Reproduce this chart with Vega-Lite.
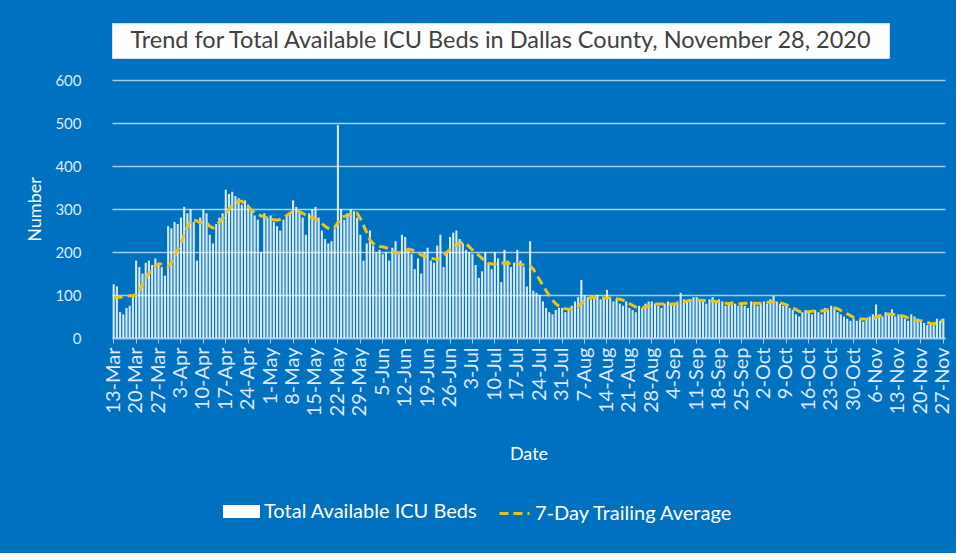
{
"$schema": "https://vega.github.io/schema/vega-lite/v6.json",
"background": "#0070C0",
"padding": {"left": 26, "top": 22, "right": 8, "bottom": 29},
"bounds": "flush",
"spacing": 22,
"datasets": {"icu": [
{"d":"13-Mar","beds":125,"avg":95},{"d":"14-Mar","beds":120,"avg":95},{"d":"15-Mar","beds":60,"avg":95},{"d":"16-Mar","beds":55,"avg":96},{"d":"17-Mar","beds":70,"avg":97},{"d":"18-Mar","beds":75,"avg":98},{"d":"19-Mar","beds":95,"avg":99},{"d":"20-Mar","beds":180,"avg":100},{"d":"21-Mar","beds":165,"avg":110},{"d":"22-Mar","beds":150,"avg":125},{"d":"23-Mar","beds":175,"avg":140},{"d":"24-Mar","beds":180,"avg":150},{"d":"25-Mar","beds":170,"avg":160},{"d":"26-Mar","beds":185,"avg":168},{"d":"27-Mar","beds":175,"avg":172},{"d":"28-Mar","beds":165,"avg":172},{"d":"29-Mar","beds":145,"avg":170},{"d":"30-Mar","beds":260,"avg":167},{"d":"31-Mar","beds":255,"avg":175},
{"d":"1-Apr","beds":270,"avg":190},{"d":"2-Apr","beds":265,"avg":205},{"d":"3-Apr","beds":280,"avg":220},{"d":"4-Apr","beds":305,"avg":240},{"d":"5-Apr","beds":290,"avg":258},{"d":"6-Apr","beds":300,"avg":272},{"d":"7-Apr","beds":270,"avg":275},{"d":"8-Apr","beds":180,"avg":272},{"d":"9-Apr","beds":280,"avg":268},{"d":"10-Apr","beds":300,"avg":270},{"d":"11-Apr","beds":290,"avg":268},{"d":"12-Apr","beds":240,"avg":260},{"d":"13-Apr","beds":220,"avg":256},{"d":"14-Apr","beds":265,"avg":262},{"d":"15-Apr","beds":280,"avg":270},{"d":"16-Apr","beds":290,"avg":278},{"d":"17-Apr","beds":345,"avg":290},{"d":"18-Apr","beds":335,"avg":300},{"d":"19-Apr","beds":340,"avg":308},{"d":"20-Apr","beds":330,"avg":314},{"d":"21-Apr","beds":325,"avg":318},{"d":"22-Apr","beds":310,"avg":318},{"d":"23-Apr","beds":320,"avg":312},{"d":"24-Apr","beds":310,"avg":305},{"d":"25-Apr","beds":300,"avg":298},{"d":"26-Apr","beds":285,"avg":292},{"d":"27-Apr","beds":275,"avg":288},{"d":"28-Apr","beds":200,"avg":284},{"d":"29-Apr","beds":290,"avg":282},{"d":"30-Apr","beds":280,"avg":280},
{"d":"1-May","beds":285,"avg":276},{"d":"2-May","beds":270,"avg":275},{"d":"3-May","beds":260,"avg":274},{"d":"4-May","beds":250,"avg":276},{"d":"5-May","beds":275,"avg":280},{"d":"6-May","beds":285,"avg":285},{"d":"7-May","beds":290,"avg":290},{"d":"8-May","beds":320,"avg":294},{"d":"9-May","beds":305,"avg":296},{"d":"10-May","beds":295,"avg":294},{"d":"11-May","beds":280,"avg":290},{"d":"12-May","beds":240,"avg":286},{"d":"13-May","beds":290,"avg":282},{"d":"14-May","beds":300,"avg":280},{"d":"15-May","beds":305,"avg":278},{"d":"16-May","beds":280,"avg":272},{"d":"17-May","beds":250,"avg":266},{"d":"18-May","beds":230,"avg":260},{"d":"19-May","beds":220,"avg":255},{"d":"20-May","beds":225,"avg":253},{"d":"21-May","beds":255,"avg":258},{"d":"22-May","beds":495,"avg":268},{"d":"23-May","beds":300,"avg":278},{"d":"24-May","beds":275,"avg":283},{"d":"25-May","beds":290,"avg":285},{"d":"26-May","beds":300,"avg":288},{"d":"27-May","beds":295,"avg":290},{"d":"28-May","beds":280,"avg":290},{"d":"29-May","beds":240,"avg":278},{"d":"30-May","beds":180,"avg":262},{"d":"31-May","beds":220,"avg":245},
{"d":"1-Jun","beds":250,"avg":228},{"d":"2-Jun","beds":215,"avg":220},{"d":"3-Jun","beds":200,"avg":215},{"d":"4-Jun","beds":205,"avg":213},{"d":"5-Jun","beds":195,"avg":212},{"d":"6-Jun","beds":200,"avg":210},{"d":"7-Jun","beds":180,"avg":206},{"d":"8-Jun","beds":210,"avg":202},{"d":"9-Jun","beds":225,"avg":199},{"d":"10-Jun","beds":195,"avg":198},{"d":"11-Jun","beds":240,"avg":200},{"d":"12-Jun","beds":235,"avg":203},{"d":"13-Jun","beds":210,"avg":205},{"d":"14-Jun","beds":195,"avg":205},{"d":"15-Jun","beds":160,"avg":203},{"d":"16-Jun","beds":185,"avg":198},{"d":"17-Jun","beds":150,"avg":193},{"d":"18-Jun","beds":200,"avg":190},{"d":"19-Jun","beds":210,"avg":188},{"d":"20-Jun","beds":180,"avg":186},{"d":"21-Jun","beds":175,"avg":184},{"d":"22-Jun","beds":215,"avg":183},{"d":"23-Jun","beds":240,"avg":185},{"d":"24-Jun","beds":165,"avg":192},{"d":"25-Jun","beds":200,"avg":200},{"d":"26-Jun","beds":235,"avg":206},{"d":"27-Jun","beds":245,"avg":212},{"d":"28-Jun","beds":250,"avg":216},{"d":"29-Jun","beds":230,"avg":220},{"d":"30-Jun","beds":220,"avg":223},
{"d":"1-Jul","beds":205,"avg":220},{"d":"2-Jul","beds":200,"avg":212},{"d":"3-Jul","beds":195,"avg":205},{"d":"4-Jul","beds":170,"avg":198},{"d":"5-Jul","beds":140,"avg":192},{"d":"6-Jul","beds":155,"avg":185},{"d":"7-Jul","beds":200,"avg":178},{"d":"8-Jul","beds":175,"avg":174},{"d":"9-Jul","beds":160,"avg":172},{"d":"10-Jul","beds":200,"avg":172},{"d":"11-Jul","beds":185,"avg":173},{"d":"12-Jul","beds":130,"avg":174},{"d":"13-Jul","beds":205,"avg":175},{"d":"14-Jul","beds":180,"avg":174},{"d":"15-Jul","beds":165,"avg":173},{"d":"16-Jul","beds":175,"avg":172},{"d":"17-Jul","beds":205,"avg":172},{"d":"18-Jul","beds":180,"avg":171},{"d":"19-Jul","beds":165,"avg":170},{"d":"20-Jul","beds":120,"avg":170},{"d":"21-Jul","beds":225,"avg":168},{"d":"22-Jul","beds":110,"avg":160},{"d":"23-Jul","beds":105,"avg":148},{"d":"24-Jul","beds":100,"avg":135},{"d":"25-Jul","beds":85,"avg":122},{"d":"26-Jul","beds":70,"avg":110},{"d":"27-Jul","beds":60,"avg":98},{"d":"28-Jul","beds":55,"avg":88},{"d":"29-Jul","beds":65,"avg":80},{"d":"30-Jul","beds":70,"avg":74},{"d":"31-Jul","beds":70,"avg":70},
{"d":"1-Aug","beds":60,"avg":68},{"d":"2-Aug","beds":65,"avg":67},{"d":"3-Aug","beds":75,"avg":67},{"d":"4-Aug","beds":85,"avg":69},{"d":"5-Aug","beds":95,"avg":74},{"d":"6-Aug","beds":135,"avg":80},{"d":"7-Aug","beds":100,"avg":87},{"d":"8-Aug","beds":95,"avg":92},{"d":"9-Aug","beds":90,"avg":94},{"d":"10-Aug","beds":95,"avg":94},{"d":"11-Aug","beds":100,"avg":93},{"d":"12-Aug","beds":90,"avg":93},{"d":"13-Aug","beds":95,"avg":93},{"d":"14-Aug","beds":112,"avg":93},{"d":"15-Aug","beds":95,"avg":93},{"d":"16-Aug","beds":85,"avg":92},{"d":"17-Aug","beds":90,"avg":91},{"d":"18-Aug","beds":80,"avg":90},{"d":"19-Aug","beds":75,"avg":88},{"d":"20-Aug","beds":85,"avg":85},{"d":"21-Aug","beds":70,"avg":80},{"d":"22-Aug","beds":65,"avg":76},{"d":"23-Aug","beds":60,"avg":72},{"d":"24-Aug","beds":75,"avg":70},{"d":"25-Aug","beds":70,"avg":70},{"d":"26-Aug","beds":80,"avg":72},{"d":"27-Aug","beds":85,"avg":75},{"d":"28-Aug","beds":85,"avg":77},{"d":"29-Aug","beds":80,"avg":79},{"d":"30-Aug","beds":75,"avg":79},{"d":"31-Aug","beds":70,"avg":79},
{"d":"1-Sep","beds":80,"avg":79},{"d":"2-Sep","beds":85,"avg":79},{"d":"3-Sep","beds":80,"avg":79},{"d":"4-Sep","beds":80,"avg":79},{"d":"5-Sep","beds":85,"avg":80},{"d":"6-Sep","beds":105,"avg":82},{"d":"7-Sep","beds":90,"avg":84},{"d":"8-Sep","beds":85,"avg":86},{"d":"9-Sep","beds":90,"avg":87},{"d":"10-Sep","beds":95,"avg":88},{"d":"11-Sep","beds":95,"avg":88},{"d":"12-Sep","beds":90,"avg":88},{"d":"13-Sep","beds":85,"avg":87},{"d":"14-Sep","beds":80,"avg":87},{"d":"15-Sep","beds":90,"avg":86},{"d":"16-Sep","beds":95,"avg":86},{"d":"17-Sep","beds":85,"avg":85},{"d":"18-Sep","beds":90,"avg":84},{"d":"19-Sep","beds":85,"avg":83},{"d":"20-Sep","beds":75,"avg":81},{"d":"21-Sep","beds":80,"avg":80},{"d":"22-Sep","beds":85,"avg":80},{"d":"23-Sep","beds":80,"avg":79},{"d":"24-Sep","beds":75,"avg":79},{"d":"25-Sep","beds":80,"avg":80},{"d":"26-Sep","beds":75,"avg":81},{"d":"27-Sep","beds":70,"avg":81},{"d":"28-Sep","beds":85,"avg":81},{"d":"29-Sep","beds":80,"avg":81},{"d":"30-Sep","beds":75,"avg":81},
{"d":"1-Oct","beds":80,"avg":81},{"d":"2-Oct","beds":85,"avg":82},{"d":"3-Oct","beds":80,"avg":83},{"d":"4-Oct","beds":90,"avg":84},{"d":"5-Oct","beds":98,"avg":84},{"d":"6-Oct","beds":85,"avg":84},{"d":"7-Oct","beds":80,"avg":82},{"d":"8-Oct","beds":75,"avg":80},{"d":"9-Oct","beds":80,"avg":77},{"d":"10-Oct","beds":70,"avg":74},{"d":"11-Oct","beds":65,"avg":70},{"d":"12-Oct","beds":55,"avg":66},{"d":"13-Oct","beds":50,"avg":62},{"d":"14-Oct","beds":60,"avg":60},{"d":"15-Oct","beds":65,"avg":60},{"d":"16-Oct","beds":60,"avg":61},{"d":"17-Oct","beds":55,"avg":62},{"d":"18-Oct","beds":65,"avg":63},{"d":"19-Oct","beds":60,"avg":63},{"d":"20-Oct","beds":55,"avg":63},{"d":"21-Oct","beds":70,"avg":64},{"d":"22-Oct","beds":65,"avg":66},{"d":"23-Oct","beds":75,"avg":68},{"d":"24-Oct","beds":70,"avg":70},{"d":"25-Oct","beds":60,"avg":68},{"d":"26-Oct","beds":55,"avg":64},{"d":"27-Oct","beds":50,"avg":60},{"d":"28-Oct","beds":45,"avg":56},{"d":"29-Oct","beds":40,"avg":52},{"d":"30-Oct","beds":45,"avg":48},{"d":"31-Oct","beds":40,"avg":45},
{"d":"1-Nov","beds":42,"avg":44},{"d":"2-Nov","beds":38,"avg":44},{"d":"3-Nov","beds":45,"avg":44},{"d":"4-Nov","beds":50,"avg":44},{"d":"5-Nov","beds":55,"avg":45},{"d":"6-Nov","beds":78,"avg":48},{"d":"7-Nov","beds":55,"avg":51},{"d":"8-Nov","beds":50,"avg":54},{"d":"9-Nov","beds":60,"avg":56},{"d":"10-Nov","beds":55,"avg":56},{"d":"11-Nov","beds":67,"avg":55},{"d":"12-Nov","beds":50,"avg":54},{"d":"13-Nov","beds":55,"avg":53},{"d":"14-Nov","beds":50,"avg":52},{"d":"15-Nov","beds":45,"avg":50},{"d":"16-Nov","beds":40,"avg":47},{"d":"17-Nov","beds":55,"avg":44},{"d":"18-Nov","beds":50,"avg":42},{"d":"19-Nov","beds":45,"avg":41},{"d":"20-Nov","beds":40,"avg":40},{"d":"21-Nov","beds":35,"avg":38},{"d":"22-Nov","beds":30,"avg":36},{"d":"23-Nov","beds":35,"avg":34},{"d":"24-Nov","beds":30,"avg":33},{"d":"25-Nov","beds":45,"avg":35},{"d":"26-Nov","beds":40,"avg":38},{"d":"27-Nov","beds":45,"avg":42}
]},
"vconcat": [
{
"data": {"values": [{"t": "Trend for Total Available ICU Beds in Dallas County, November 28, 2020"}]},
"width": 777, "height": 35,
"view": {"fill": "white", "stroke": "#cfe0f1", "strokeWidth": 1},
"mark": {"type": "text", "font": "Lato", "fontSize": 23.5, "color": "#404040"},
"encoding": {"text": {"field": "t", "type": "nominal"}}
},
{
"data": {"name": "icu"},
"width": 833, "height": 258,
"encoding": {
"x": {"field": "d", "type": "ordinal", "sort": null,
"scale": {"paddingInner": 0.35, "paddingOuter": 0.2},
"axis": {"title": "Date", "values": ["13-Mar","20-Mar","27-Mar","3-Apr","10-Apr","17-Apr","24-Apr","1-May","8-May","15-May","22-May","29-May","5-Jun","12-Jun","19-Jun","26-Jun","3-Jul","10-Jul","17-Jul","24-Jul","31-Jul","7-Aug","14-Aug","21-Aug","28-Aug","4-Sep","11-Sep","18-Sep","25-Sep","2-Oct","9-Oct","16-Oct","23-Oct","30-Oct","6-Nov","13-Nov","20-Nov","27-Nov"],
"labelAngle": -90, "labelColor": "#dde9f6", "labelFont": "Lato", "labelFontSize": 20, "labelPadding": 4, "labelOverlap": false,
"tickColor": "#a9cdef", "tickSize": 5, "domainColor": "#a9cdef", "domainWidth": 1.5, "grid": false,
"titleColor": "white", "titleFont": "Lato", "titleFontSize": 18, "titleFontWeight": "normal", "titlePadding": 30}}
},
"layer": [
{"mark": {"type": "bar", "opacity": 0.85},
"encoding": {
"y": {"field": "beds", "type": "quantitative", "scale": {"domain": [0, 600]},
"axis": {"title": "Number", "values": [0,100,200,300,400,500,600], "grid": true, "gridColor": "#a9cdef", "gridWidth": 1.5, "domain": false, "ticks": false,
"labelColor": "#dde9f6", "labelFont": "Lato", "labelFontSize": 15, "labelPadding": 31,
"titleColor": "white", "titleFont": "Lato", "titleFontSize": 18, "titleFontWeight": "normal", "titlePadding": 10}},
"fill": {"datum": "Total Available ICU Beds", "type": "nominal",
"scale": {"range": ["white"]},
"legend": {"title": null, "orient": "none", "legendX": 111, "legendY": 470,
"labelColor": "white", "labelFont": "Lato", "labelFontSize": 20, "labelLimit": 400, "labelOffset": 4,
"symbolType": "M-1,-0.35H1V0.35H-1Z", "symbolSize": 1369, "symbolFillColor": "white", "symbolStrokeWidth": 0, "symbolOpacity": 1}}
}},
{"mark": {"type": "line", "strokeWidth": 3, "strokeDash": [9, 5]},
"encoding": {
"y": {"field": "avg", "type": "quantitative"},
"stroke": {"datum": "7-Day Trailing Average", "type": "nominal",
"scale": {"range": ["#e8c51a"]},
"legend": {"title": null, "orient": "none", "legendX": 386, "legendY": 474,
"labelColor": "white", "labelFont": "Lato", "labelFontSize": 20, "labelLimit": 400, "labelOffset": 4,
"symbolType": "stroke", "symbolSize": 900, "symbolStrokeWidth": 3, "symbolDash": [9, 5], "symbolOpacity": 1}}
}}
]
}
],
"config": {"font": "Lato", "view": {"stroke": null}}
}
